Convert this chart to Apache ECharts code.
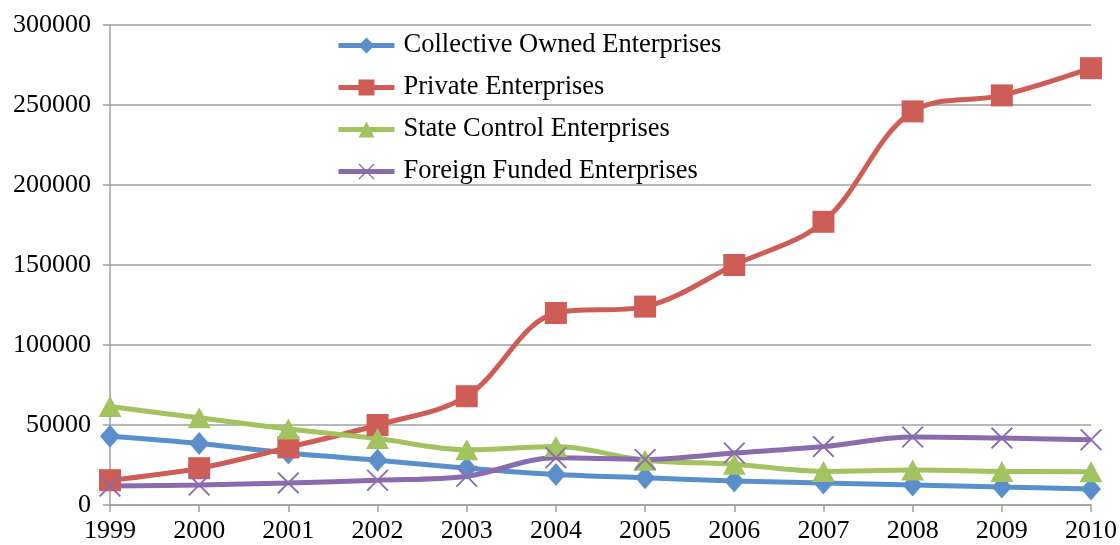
<!DOCTYPE html>
<html>
<head>
<meta charset="utf-8">
<script src="https://cdn.jsdelivr.net/npm/echarts@6/dist/echarts.min.js"></script>
<style>html,body{margin:0;padding:0;background:#fff}#c{width:1120px;height:545px}</style>
</head>
<body>
<div id="c"></div>
<script>
var years = ['1999','2000','2001','2002','2003','2004','2005','2006','2007','2008','2009','2010'];
var collectiveOwned = [43000, 38500, 32500, 28000, 23000, 19000, 17000, 15000, 13800, 12500, 11200, 10000];
var privateEnt = [15500, 23000, 36000, 50000, 68000, 120000, 124000, 150000, 177000, 246000, 256000, 273000];
var stateControl = [61500, 54500, 47500, 41500, 34500, 36500, 28000, 25500, 21000, 21800, 21000, 20800];
var foreignFunded = [11800, 12500, 13800, 15500, 18000, 29500, 28500, 32500, 36500, 42500, 41800, 40800];
var seriesNames = ['Collective Owned Enterprises','Private Enterprises','State Control Enterprises','Foreign Funded Enterprises'];
var colors = ['#5A8FCC','#CE5D57','#A2C35F','#8A6BAE'];

var xPath = 'path://M0,1.2L1.2,0L10,8.8L18.8,0L20,1.2L11.2,10L20,18.8L18.8,20L10,11.2L1.2,20L0,18.8L8.8,10Z';
var symbols = ['diamond','rect','triangle', xPath];
var sizes = [[20,23],[22,22],[23,21],[22,22]];
var datas = [collectiveOwned, privateEnt, stateControl, foreignFunded];

var font = '"Liberation Serif","Times New Roman",serif';
var chart = echarts.init(document.getElementById('c'));
chart.setOption({
  animation: false,
  backgroundColor: '#fff',
  color: colors,
  grid: {left: 110, right: 27, top: 25, bottom: 40, containLabel: false},
  legend: {
    orient: 'vertical', left: 331, top: 27,
    itemWidth: 56, itemHeight: 20, itemGap: 15,
    lineStyle: {width: 5},
    textStyle: {fontFamily: font, fontSize: 26.5, lineHeight: 24, color: '#000', padding: [0,0,0,4]},
    data: seriesNames
  },
  xAxis: {
    type: 'category', data: years, boundaryGap: false,
    axisLine: {lineStyle: {color: '#A0A0A0', width: 1.5}},
    axisTick: {show: true, alignWithLabel: true, length: 7, lineStyle: {color: '#A0A0A0', width: 1.5}},
    axisLabel: {fontFamily: font, fontSize: 26, color: '#000', margin: 13},
    splitLine: {show: false}
  },
  yAxis: {
    type: 'value', min: 0, max: 300000, interval: 50000,
    axisLine: {show: true, lineStyle: {color: '#A0A0A0', width: 1.5}},
    axisTick: {show: true, length: 7, lineStyle: {color: '#A0A0A0', width: 1.5}},
    axisLabel: {fontFamily: font, fontSize: 26, color: '#000', margin: 19, formatter: function(v){ return String(v); }},
    splitLine: {lineStyle: {color: '#A0A0A0', width: 1.5}}
  },
  series: seriesNames.map(function(n, i){
    return {
      name: n, type: 'line', data: datas[i], smooth: 0.35,
      symbol: symbols[i], symbolSize: sizes[i], showSymbol: true,
      lineStyle: {width: 5, color: colors[i]},
      itemStyle: {color: colors[i]}
    };
  })
});
</script>
</body>
</html>
